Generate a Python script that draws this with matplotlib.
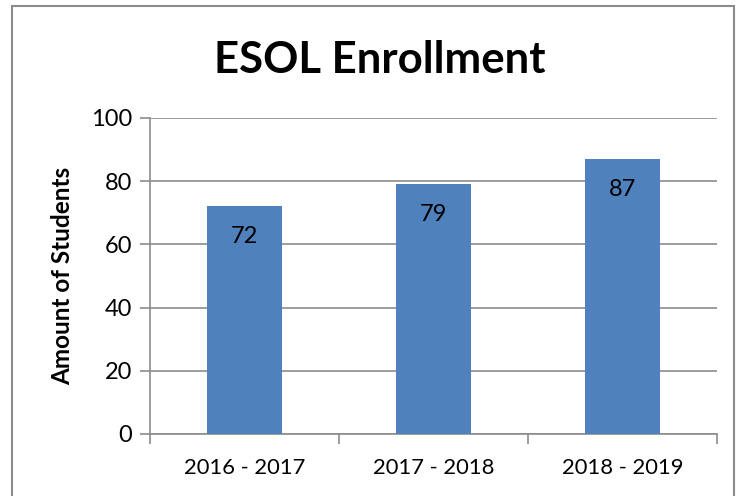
import matplotlib.pyplot as plt
from matplotlib.patches import Rectangle

# data
years = ["2016 - 2017", "2017 - 2018", "2018 - 2019"]
students = [72, 79, 87]

plt.rcParams['font.family'] = ['Lato', 'DejaVu Sans']

fig = plt.figure(figsize=(7.46, 4.96), dpi=100)
ax = fig.add_axes([150 / 746, 1 - 434 / 496, (717 - 150) / 746, (434 - 118) / 496])

# chart frame
fig.patches.append(Rectangle((12 / 746, -0.05), (734 - 12) / 746, 1.05 - 6 / 496,
                             transform=fig.transFigure, fill=False,
                             edgecolor='#8c8c8c', linewidth=1.5))

pos = range(len(years))
bars = ax.bar(pos, students, width=0.4, color='#4F81BD', zorder=3)

for x, v in zip(pos, students):
    ax.annotate(str(v), (x, v), xytext=(0, -14), textcoords='offset points',
                ha='center', va='top', fontsize=17, color='black', zorder=4)

ax.set_xlim(-0.5, 2.5)
ax.set_ylim(0, 100)
ax.set_yticks(range(0, 101, 20))
ax.yaxis.grid(True, color='#8c8c8c', linewidth=1.2, zorder=0)
ax.set_axisbelow(True)

ax.set_xticks([-0.5, 0.5, 1.5, 2.5])
ax.set_xticklabels([])
ax.set_xticks(list(pos), minor=True)
ax.set_xticklabels(years, minor=True)
ax.tick_params(axis='x', which='minor', length=0, labelsize=15.8, pad=17)
ax.tick_params(axis='x', which='major', length=7, width=1.2, color='#8c8c8c', direction='out')
ax.tick_params(axis='y', length=7, width=1.2, color='#8c8c8c', labelsize=17, pad=6)

for s in ['top', 'right']:
    ax.spines[s].set_visible(False)
for s in ['left', 'bottom']:
    ax.spines[s].set_color('#8c8c8c')
    ax.spines[s].set_linewidth(1.2)

ax.set_ylabel("Amount of Students", fontsize=17.5, fontweight='bold', labelpad=12)
fig.text(380 / 746, 1 - 60 / 496, "ESOL Enrollment", ha='center', va='center',
         fontsize=31.5, fontweight='bold')

fig.savefig("out.png", dpi=100)
